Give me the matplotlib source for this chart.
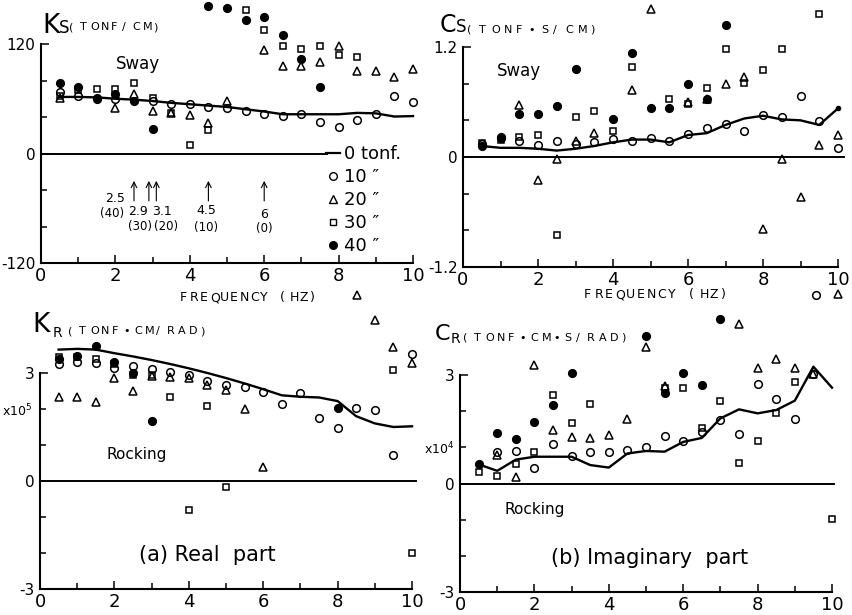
import matplotlib
matplotlib.use("Agg")
import matplotlib.pyplot as plt
from matplotlib.lines import Line2D
import numpy as np

# frequencies (Hz) of the 0 tonf curve
freq = [0.5, 1, 1.5, 2, 2.5, 3, 3.5, 4, 4.5, 5, 5.5, 6, 6.5, 7, 7.5, 8, 8.5, 9, 9.5, 10]

# ---- Ks sway stiffness (tonf/cm) ----
ks_line = [62, 62, 61.5, 60, 59, 57.5, 55.5, 54, 52.5, 51, 48.5, 46, 43, 43, 43, 43, 44.5, 44, 40.5, 41]
ks_10_f = [0.5, 1, 1.5, 2, 3, 3.5, 4, 4.5, 5, 5.5, 6, 6.5, 7, 7.5, 8, 8.5, 9, 9.5, 10]
ks_10 = [67.6, 63, 61, 60, 57.5, 54, 54, 51, 50, 46.5, 43.6, 41, 43.6, 34.5, 29.5, 36.7, 43, 63, 56]
ks_20_f = [0.5, 2, 2.5, 3, 3.5, 4, 4.5, 5, 6, 6.5, 7, 7.5, 8, 8.5, 8.5, 9, 9.5, 10]
ks_20 = [61, 50, 65, 46.5, 44.7, 41.8, 33, 57.5, 113, 96, 96, 100, 118, 90, -155, 90, 84, 93]
ks_30_f = [0.5, 1, 1.5, 2, 2.5, 3, 3.5, 4, 4.5, 5.5, 6, 6.5, 7, 7.5, 8, 8.5]
ks_30 = [63, 70, 71, 71, 77.5, 61, 44.7, 9.5, 26, 157, 135, 118, 114.5, 118, 108, 106]
ks_40_f = [0.5, 1, 1.5, 2, 2.5, 3, 4.5, 5, 5.5, 6, 6.5, 7, 7.5]
ks_40 = [77, 73, 60, 65, 57.5, 26.5, 162, 160, 146.5, 149.5, 129.5, 103.6, 73]

# ---- Cs sway damping (tonf*s/cm) ----
cs_line = [0.12, 0.10, 0.10, 0.09, 0.07, 0.09, 0.12, 0.16, 0.19, 0.19, 0.16, 0.24, 0.26, 0.35, 0.42, 0.45, 0.41, 0.40, 0.35, 0.53]
cs_10_f = [0.5, 1, 1.5, 2, 2.5, 3, 3.5, 4, 4.5, 5, 5.5, 6, 6.5, 7, 7.5, 8, 8.5, 9, 9.5, 10, 9.4]
cs_10 = [0.14, 0.22, 0.18, 0.13, 0.17, 0.14, 0.16, 0.2, 0.18, 0.21, 0.17, 0.25, 0.32, 0.36, 0.28, 0.46, 0.44, 0.67, 0.39, 0.10, -1.5]
cs_20_f = [1.5, 2, 2.5, 3, 3.5, 4.5, 5, 6, 6.5, 7, 7.5, 8, 8.5, 9, 9.5, 10, 10]
cs_20 = [0.57, -0.25, -0.02, 0.18, 0.26, 0.73, 1.62, 0.6, 0.63, 0.8, 0.87, -0.79, -0.02, -0.44, 0.13, 0.24, -1.49]
cs_30_f = [0.5, 1, 1.5, 2, 2.5, 3, 3.5, 4, 4.5, 5.5, 6, 6.5, 7, 7.5, 8, 8.5, 9.5]
cs_30 = [0.15, 0.19, 0.22, 0.24, -0.85, 0.44, 0.50, 0.28, 0.98, 0.63, 0.58, 0.75, 1.18, 0.81, 0.95, 1.18, 1.56]
cs_40_f = [0.5, 1, 1.5, 2, 2.5, 3, 4, 4.5, 5, 5.5, 6, 6.5, 7]
cs_40 = [0.12, 0.21, 0.47, 0.47, 0.56, 0.96, 0.42, 1.13, 0.53, 0.53, 0.8, 0.63, 1.44]

# ---- KR rocking stiffness (x10^5 tonf*cm/rad) ----
kr_line = [3.65, 3.67, 3.65, 3.55, 3.46, 3.36, 3.25, 3.13, 3.0, 2.86, 2.71, 2.55, 2.38, 2.34, 2.32, 2.22, 1.8, 1.6, 1.5, 1.52]
kr_10_f = freq
kr_10 = [3.26, 3.3, 3.28, 3.14, 3.19, 3.12, 3.03, 2.94, 2.77, 2.68, 2.61, 2.46, 2.13, 2.45, 1.74, 1.48, 2.04, 1.98, 0.72, 3.54]
kr_20_f = [0.5, 1, 1.5, 2, 2.5, 3, 3.5, 4, 4.5, 5, 5.5, 6, 9, 9.5, 10]
kr_20 = [2.34, 2.34, 2.2, 2.87, 2.5, 2.91, 2.89, 2.87, 2.66, 2.52, 2.01, 0.38, 4.46, 3.72, 3.28]
kr_30_f = [0.5, 1, 1.5, 2, 2.5, 3, 3.5, 4, 4.5, 5, 9.5, 10]
kr_30 = [3.44, 3.44, 3.4, 3.26, 2.94, 2.94, 2.32, -0.8, 2.08, -0.18, 3.07, -2.0]
kr_40_f = [0.5, 1, 1.5, 2, 2.5, 3, 8]
kr_40 = [3.4, 3.46, 3.74, 3.3, 3.0, 1.66, 2.03]

# ---- CR rocking damping (x10^4 tonf*cm*s/rad) ----
cr_line = [0.53, 0.35, 0.66, 0.74, 0.74, 0.74, 0.51, 0.44, 0.83, 0.9, 0.88, 1.15, 1.26, 1.8, 2.05, 1.94, 2.03, 2.29, 3.23, 2.65]
cr_10_f = [1, 1.5, 2, 2.5, 3, 3.5, 4, 4.5, 5, 5.5, 6, 6.5, 7, 7.5, 8, 8.5, 9, 9.5]
cr_10 = [0.88, 0.9, 0.43, 1.09, 0.77, 0.88, 0.88, 0.92, 1.01, 1.32, 1.18, 1.43, 1.75, 1.38, 2.76, 2.33, 1.78, 3.04]
cr_20_f = [1, 1.5, 2, 2.5, 3, 3.5, 4, 4.5, 5, 5.5, 7.5, 8, 8.5, 9, 9.5]
cr_20 = [0.78, 0.18, 3.27, 1.47, 1.29, 1.27, 1.34, 1.78, 3.78, 2.69, 4.42, 3.18, 3.43, 3.18, 3.02]
cr_30_f = [0.5, 1, 1.5, 2, 2.5, 3, 3.5, 5.5, 6, 6.5, 7, 7.5, 8, 8.5, 9, 10]
cr_30 = [0.32, 0.21, 0.53, 0.88, 2.44, 1.68, 2.21, 2.65, 2.65, 1.54, 2.28, 0.58, 1.18, 1.95, 2.81, -0.97]
cr_40_f = [0.5, 1, 1.5, 2, 2.5, 3, 5, 5.5, 6, 6.5, 7]
cr_40 = [0.53, 1.4, 1.22, 1.7, 2.17, 3.06, 4.07, 2.51, 3.06, 2.72, 4.56]

# resonance arrows in the Ks panel: frequency and (surcharge tonf)
arrow_freq = [2.5, 2.9, 3.1, 4.5, 6]
arrow_load = ["(40)", "(30)", "(20)", "(10)", "(0)"]

legend_labels = ["0 tonf.", "10 \u2033", "20 \u2033", "30 \u2033", "40 \u2033"]

W, H = 852, 615
fig = plt.figure(figsize=(W / 100, H / 100), dpi=100)


def fx(x):
    return x / W


def fy(y):
    return 1 - y / H


def make_axes(x0, x1, ytop, ybot):
    return fig.add_axes([x0 / W, 1 - ybot / H, (x1 - x0) / W, (ybot - ytop) / H])


def spaced(x, y, s, step, size):
    # old plotter lettering is widely spaced, so place char by char
    for i, ch in enumerate(s):
        fig.text(fx(x + i * step), fy(y), ch, fontsize=size, va="baseline")


def draw_panel(ax, line, series, ymax, ystep, ylabels, zero_end):
    ax.plot([0, zero_end], [0, 0], color="k", lw=1.4, clip_on=False)
    ax.plot(freq, line, color="k", lw=1.7, clip_on=False, zorder=3)
    styles = [dict(marker="o", mfc="none", ms=5.5),
              dict(marker="^", mfc="none", ms=5.5),
              dict(marker="s", mfc="none", ms=5),
              dict(marker="o", mfc="k", ms=5.5)]
    for (f, v), st in zip(series, styles):
        ax.plot(f, v, ls="none", mec="k", color="k", mew=1.1, clip_on=False, zorder=4, **st)

    ax.set_xlim(0, 10)
    ax.set_ylim(-ymax, ymax)
    for s in ["top", "right"]:
        ax.spines[s].set_visible(False)
    for s in ["left", "bottom"]:
        ax.spines[s].set_linewidth(1.5)

    ax.set_xticks([0, 2, 4, 6, 8, 10])
    ax.set_xticklabels(["0", "2", "4", "6", "8", "10"], fontsize=13)
    ax.set_xticks([1, 3, 5, 7, 9], minor=True)
    ax.set_yticks([-ymax, 0, ymax])
    ax.set_yticklabels(ylabels, fontsize=11)
    ax.set_yticks(np.arange(-ymax + ystep, ymax, ystep), minor=True)
    ax.tick_params(which="both", direction="in", width=1.1)
    ax.tick_params(which="major", length=6)
    ax.tick_params(which="minor", length=4)
    ax.tick_params(axis="x", pad=3)
    ax.tick_params(axis="y", pad=4)
    ax.patch.set_visible(False)


# (a) Ks
ax1 = make_axes(41, 413, 44, 263)
draw_panel(ax1, ks_line, [(ks_10_f, ks_10), (ks_20_f, ks_20), (ks_30_f, ks_30), (ks_40_f, ks_40)],
           120, 40, ["-120", "0", "120"], 7.7)
ax1.text(2.0, 93, "Sway", fontsize=12)

label_pos = [(2.0, -49, 1.9, -66), (2.6, -64, 2.65, -80), (3.25, -64, 3.35, -80),
             (4.45, -63, 4.45, -81), (6.0, -67, 6.0, -82)]
for f, load, (tx, ty, lx, ly) in zip(arrow_freq, arrow_load, label_pos):
    ax1.annotate("", xy=(f, -30), xytext=(f, -52),
                 arrowprops=dict(arrowstyle="->", lw=0.8, color="k", shrinkA=0, shrinkB=0))
    ax1.text(tx, ty, f"{f:g}", fontsize=9, ha="center", va="center")
    ax1.text(lx, ly, load, fontsize=8.5, ha="center", va="center")

fig.text(fx(42), fy(33), "K", fontsize=19, va="baseline")
fig.text(fx(59), fy(33), "S", fontsize=12, va="baseline")
spaced(69, 30, "(TONF/CM)", 10.5, 8)
spaced(180, 301, "FREQUENCY (HZ)", 10, 9)

handles = [Line2D([], [], color="k", lw=1.6),
           Line2D([], [], ls="none", marker="o", mfc="none", mec="k", ms=5.5),
           Line2D([], [], ls="none", marker="^", mfc="none", mec="k", ms=5.5),
           Line2D([], [], ls="none", marker="s", mfc="none", mec="k", ms=5),
           Line2D([], [], ls="none", marker="o", mfc="k", mec="k", ms=5.5)]
fig.legend(handles, legend_labels, loc="upper left", bbox_to_anchor=(fx(326), fy(145)),
           frameon=False, fontsize=13, handlelength=0.8, handletextpad=0.2,
           labelspacing=0.28, borderpad=0, borderaxespad=0)

# (b) Cs
ax2 = make_axes(463, 838, 47, 267)
draw_panel(ax2, cs_line, [(cs_10_f, cs_10), (cs_20_f, cs_20), (cs_30_f, cs_30), (cs_40_f, cs_40)],
           1.2, 0.4, ["-1.2", "0", "1.2"], 10.15)
ax2.plot([10], [cs_line[-1]], "ko", ms=3, clip_on=False)
ax2.text(0.9, 0.88, "Sway", fontsize=12)
fig.text(fx(440), fy(32), "C", fontsize=17, va="baseline")
fig.text(fx(456), fy(32), "S", fontsize=12, va="baseline")
spaced(467, 33, "(TONF\u2022S/CM)", 12.3, 8)
spaced(584, 298, "FREQUENCY (HZ)", 10.5, 9)

# (a) KR
ax3 = make_axes(40, 412, 373, 589)
draw_panel(ax3, kr_line, [(kr_10_f, kr_10), (kr_20_f, kr_20), (kr_30_f, kr_30), (kr_40_f, kr_40)],
           3, 1, ["-3", "0", "3"], 10.1)
ax3.text(1.8, 0.6, "Rocking", fontsize=11)
ax3.text(4.5, -2.05, "(a) Real  part", fontsize=15, ha="center", va="center")
ax3.text(-0.2, 1.95, r"x10$^5$", fontsize=9, ha="right", va="center")
fig.text(fx(32), fy(332), "K", fontsize=19, va="baseline")
fig.text(fx(53), fy(337), "R", fontsize=10, va="baseline")
spaced(68, 334, "(TONF\u2022CM/RAD)", 11, 8)

# (b) CR
ax4 = make_axes(460, 832, 375, 592)
draw_panel(ax4, cr_line, [(cr_10_f, cr_10), (cr_20_f, cr_20), (cr_30_f, cr_30), (cr_40_f, cr_40)],
           3, 1, ["-3", "0", "3"], 10.05)
ax4.text(1.2, -0.85, "Rocking", fontsize=11)
ax4.text(5.1, -2.05, "(b) Imaginary  part", fontsize=15, ha="center", va="center")
ax4.text(-0.15, 0.95, r"x10$^4$", fontsize=9, ha="right", va="center")
fig.text(fx(435), fy(340), "C", fontsize=16, va="baseline")
fig.text(fx(451), fy(343), "R", fontsize=10, va="baseline")
spaced(463, 341, "(TONF\u2022CM\u2022S/RAD)", 11.3, 8)

fig.savefig("out.png", dpi=100)
